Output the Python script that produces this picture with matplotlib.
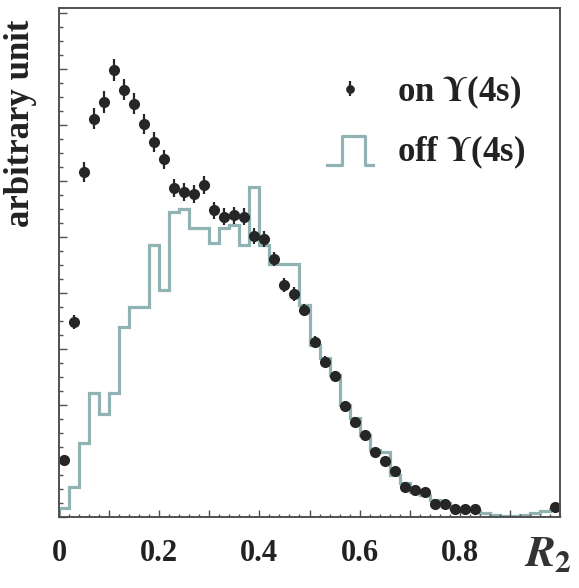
import matplotlib
matplotlib.use("Agg")
import matplotlib.pyplot as plt
import numpy as np
from matplotlib.lines import Line2D
from matplotlib.legend_handler import HandlerBase, HandlerErrorbar
from matplotlib.container import ErrorbarContainer
from matplotlib.ticker import MultipleLocator, FixedLocator, FixedFormatter

# R2 histogram, 50 bins of width 0.02 between 0 and 1
bin_edges = np.linspace(0.0, 1.0, 51)
bin_centers = 0.5 * (bin_edges[:-1] + bin_edges[1:])

# on-resonance data (points with errors), nan = bin not shown
on_vals = [1.02, 3.48, 6.16, 7.11, 7.41, 7.98, 7.63, 7.38, 7.02, 6.70,
           6.39, 5.88, 5.80, 5.77, 5.93, 5.48, 5.36, 5.39, 5.36, 5.02,
           4.96, 4.61, 4.14, 3.98, 3.70, 3.13, 2.77, 2.52, 1.98, 1.70,
           1.46, 1.16, 1.00, 0.82, 0.54, 0.48, 0.45, 0.23, 0.23, 0.14,
           0.14, 0.14, np.nan, np.nan, np.nan, np.nan, np.nan, np.nan, np.nan, 0.18]
on_errs = [0.08, 0.13, 0.18, 0.19, 0.19, 0.20, 0.19, 0.19, 0.18, 0.18,
           0.17, 0.16, 0.16, 0.16, 0.16, 0.15, 0.15, 0.15, 0.15, 0.14,
           0.14, 0.13, 0.12, 0.12, 0.11, 0.10, 0.10, 0.09, 0.08, 0.08,
           0.07, 0.06, 0.06, 0.05, 0.04, 0.04, 0.04, 0.03, 0.03, 0.02,
           0.02, 0.02, 0.0, 0.0, 0.0, 0.0, 0.0, 0.0, 0.0, 0.02]

# off-resonance histogram
off_vals = [0.16, 0.54, 1.32, 2.21, 1.84, 2.21, 3.39, 3.75, 3.75, 4.86,
            4.05, 5.45, 5.50, 5.16, 5.16, 4.89, 5.16, 5.21, 4.86, 5.89,
            4.86, 4.52, 4.52, 4.52, 3.79, 3.07, 2.84, 2.54, 2.00, 1.77,
            1.46, 1.20, 1.16, 0.75, 0.61, 0.45, 0.39, 0.30, 0.25, 0.16,
            0.13, 0.11, 0.07, 0.04, 0.02, 0.02, 0.04, 0.07, 0.11, 0.14]

x_ticks = [0.0, 0.1, 0.2, 0.3, 0.4, 0.5, 0.6, 0.7, 0.8, 0.9]
x_tick_labels = ["0", "", "0.2", "", "0.4", "", "0.6", "", "0.8", ""]

HIST_COLOR = "#92b3b3"
DOT_COLOR = "#262626"
AXIS_COLOR = "#505050"
TEXT_COLOR = "#222222"

plt.rcParams["font.family"] = ["Liberation Serif", "DejaVu Serif"]
plt.rcParams["font.weight"] = "bold"
plt.rcParams["mathtext.fontset"] = "stix"


class StepHandler(HandlerBase):
    """Draws a small histogram step as the legend key."""
    def create_artists(self, legend, orig_handle, xdescent, ydescent,
                       width, height, fontsize, trans):
        fx = np.array([0.0, 0.33, 0.33, 0.83, 0.83, 1.0])
        fy = np.array([-0.15, -0.15, 1.05, 1.05, -0.15, -0.15])
        line = Line2D(fx * width - xdescent, fy * height - ydescent,
                      color=orig_handle.get_color(),
                      lw=orig_handle.get_linewidth())
        line.set_transform(trans)
        return [line]


fig = plt.figure(figsize=(5.79, 5.88), dpi=100)
ax = fig.add_axes([59 / 579, 1 - 517 / 588, 501 / 579, 509 / 588])

ax.stairs(off_vals, bin_edges, color=HIST_COLOR, lw=2.3)
eb = ax.errorbar(bin_centers, on_vals, yerr=on_errs, fmt="o", color=DOT_COLOR,
                 ms=7, elinewidth=1.6, capsize=0)

ax.set_xlim(0, 1)
ax.set_ylim(0, 509 / 56)

ax.xaxis.set_major_locator(FixedLocator(x_ticks))
ax.xaxis.set_major_formatter(FixedFormatter(x_tick_labels))
ax.xaxis.set_minor_locator(MultipleLocator(0.02))
ax.yaxis.set_major_locator(MultipleLocator(1.0))
ax.yaxis.set_minor_locator(MultipleLocator(0.25))
ax.set_yticklabels([])

ax.tick_params(axis="both", which="both", direction="in", color=AXIS_COLOR,
               width=1.0, top=False, right=False)
ax.tick_params(axis="x", which="major", length=5, pad=16,
               labelsize=22, labelcolor=TEXT_COLOR)
ax.tick_params(axis="x", which="minor", length=2.5)
ax.tick_params(axis="y", which="major", length=6)
ax.tick_params(axis="y", which="minor", length=3)
for sp in ax.spines.values():
    sp.set_color(AXIS_COLOR)
    sp.set_linewidth(1.4)

ax.set_ylabel("arbitrary unit", fontsize=25, fontweight="bold", color=TEXT_COLOR)
ax.yaxis.set_label_coords(-0.044, 0.774)

ax.set_xlabel(r"$\mathit{R}_{\mathrm{2}}$", fontsize=32, fontweight="normal",
              color="#333333")
ax.xaxis.set_label_coords(0.975, -0.035)
ax.xaxis.label.set_verticalalignment("top")

off_proxy = Line2D([], [], color=HIST_COLOR, lw=2.3)
ax.legend([eb, off_proxy],
          [r"on $\mathbf{\Upsilon}$(4s)", r"off $\mathbf{\Upsilon}$(4s)"],
          handler_map={off_proxy: StepHandler(),
                       ErrorbarContainer: HandlerErrorbar(yerr_size=0.22)},
          loc="upper left", bbox_to_anchor=(0.535, 0.872),
          frameon=False, borderpad=0, borderaxespad=0, markerscale=0.75,
          handlelength=1.33, handletextpad=0.69, labelspacing=0.67,
          prop={"size": 25, "weight": "bold"}, labelcolor=TEXT_COLOR)

fig.savefig("out.png", dpi=100, facecolor="white")
